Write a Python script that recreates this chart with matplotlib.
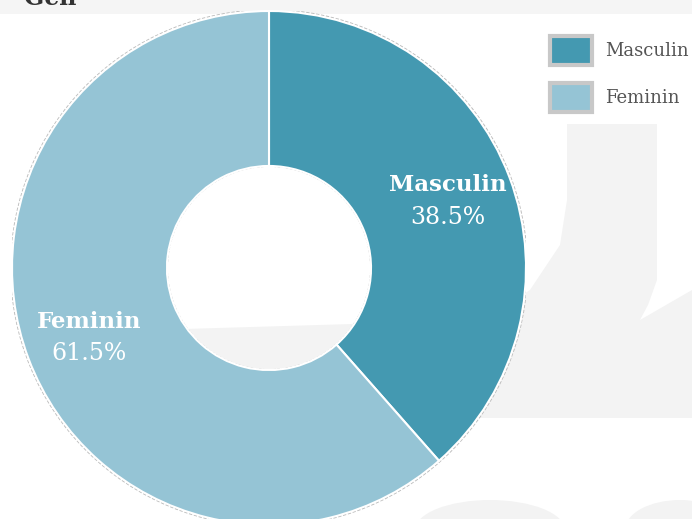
import matplotlib.pyplot as plt
import matplotlib.patches as mpatches

# data
labels = ['Masculin', 'Feminin']
values = [38.5, 61.5]
colors = ['#4499b1', '#95c4d5']
title = 'Gen'

plt.rcParams['font.family'] = ['DejaVu Serif']

fig = plt.figure(figsize=(6.92, 5.19), dpi=100)
fig.patch.set_facecolor('white')

# faint watermark shapes + top strip
bg = fig.add_axes([0, 0, 1, 1])
bg.set_xlim(0, 692)
bg.set_ylim(519, 0)
bg.axis('off')
wm = '#f3f3f3'
bg.add_patch(mpatches.Rectangle((0, 0), 692, 14, color='#f5f5f5', lw=0))
bg.add_patch(mpatches.Polygon([(567, 124), (657, 124), (657, 280), (648, 305), (640, 320),
                               (692, 290), (692, 418), (470, 418), (470, 330),
                               (530, 290), (560, 245), (567, 200)],
                              color=wm, lw=0))
bg.add_patch(mpatches.Polygon([(150, 330), (420, 322), (430, 420), (170, 440)],
                              color=wm, lw=0))
bg.add_patch(mpatches.Ellipse((490, 530), 150, 60, color=wm, lw=0))
bg.add_patch(mpatches.Ellipse((680, 530), 110, 60, color=wm, lw=0))

# donut
cx, cy, r = 269, 268, 257
ax = fig.add_axes([(cx - r) / 692, (519 - cy - r) / 519, 2 * r / 692, 2 * r / 519])
ax.set_xlim(-1, 1)
ax.set_ylim(-1, 1)
ax.axis('off')

# soft outline
ax.add_patch(mpatches.Circle((0, 0), 1.004, fill=False, ec='#bbbbbb', lw=1.2, ls=(0, (2, 1))))
ax.add_patch(mpatches.Circle((0, 0), 0.396, fill=False, ec='#bbbbbb', lw=1.0, ls=(0, (2, 1))))

wedges, _ = ax.pie(values, colors=colors, startangle=90, counterclock=False,
                   radius=1.0, wedgeprops=dict(width=0.603, edgecolor='white', linewidth=1.5))
ax.set_xlim(-1, 1)
ax.set_ylim(-1, 1)

# overlay for texts and legend
top = fig.add_axes([0, 0, 1, 1])
top.set_xlim(0, 692)
top.set_ylim(519, 0)
top.axis('off')
top.patch.set_alpha(0)

top.text(24, 5, title, fontsize=17, fontweight='bold', color='#333333',
         va='baseline', ha='left')

lab_pos = [(448, 185), (89, 322)]
for lab, v, (px, py) in zip(labels, values, lab_pos):
    top.text(px, py, lab, fontsize=16.5, fontweight='bold', color='white',
             ha='center', va='center')
    top.text(px, py + 32, '{:.1f}%'.format(v), fontsize=17, color='white',
             ha='center', va='center')

# legend
for i, (lab, c) in enumerate(zip(labels, colors)):
    y0 = 36 + i * 47
    top.add_patch(mpatches.Rectangle((550, y0), 42, 29, fc=c, ec='#c8c8c8', lw=3))
    top.text(605, y0 + 15, lab, fontsize=13, color='#555555', ha='left', va='center')

fig.savefig('out.png', dpi=100)
